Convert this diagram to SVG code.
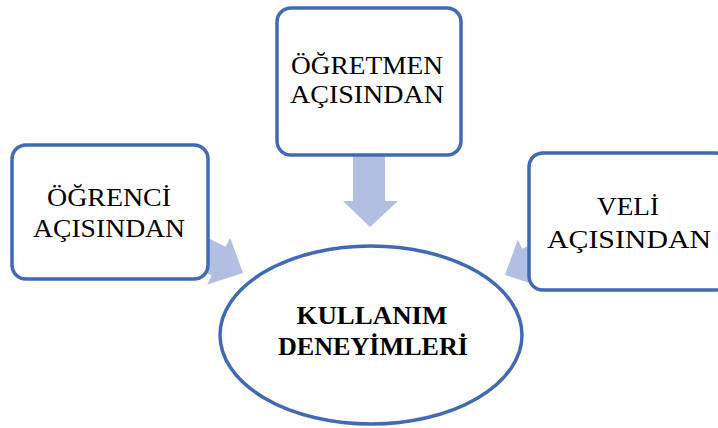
<svg xmlns="http://www.w3.org/2000/svg" width="718" height="428" viewBox="0 0 718 428">
<style>
.box{fill:#fff;stroke:#4169B4;stroke-width:3.5}
.arr{fill:#B2BFE2;stroke:none}
.t{font-family:"Liberation Serif","Times New Roman",serif;font-size:25px;fill:#000;text-anchor:middle}
.b{font-weight:bold;font-size:26px}
</style>
<rect width="718" height="428" fill="#fff"/>
<g id="connectors">
<polygon class="arr" points="353,150 385,150 385,201 398,201 370,227 343,201 353,201"/>
<polygon class="arr" transform="translate(243,273) rotate(26.1)" points="-60,-16 -27,-16 -27,-26 0,0 -27,26 -27,16 -60,16"/>
<polygon class="arr" transform="translate(505,275) rotate(153.9)" points="-60,-16 -27,-16 -27,-26 0,0 -27,26 -27,16 -60,16"/>
</g>
<g id="ogrenci">
<rect class="box" x="12" y="145" width="196" height="134" rx="14"/>
<text class="t" x="109" y="206" textLength="124" lengthAdjust="spacingAndGlyphs">ÖĞRENCİ</text>
<text class="t" x="109" y="237" textLength="152" lengthAdjust="spacingAndGlyphs">AÇISINDAN</text>
</g>
<g id="ogretmen">
<rect class="box" x="277" y="8" width="184" height="147" rx="14"/>
<text class="t" x="367" y="74" textLength="152" lengthAdjust="spacingAndGlyphs">ÖĞRETMEN</text>
<text class="t" x="367" y="103" textLength="154" lengthAdjust="spacingAndGlyphs">AÇISINDAN</text>
</g>
<g id="veli">
<rect class="box" x="529" y="153" width="200" height="137" rx="14"/>
<text class="t" x="628" y="215" textLength="62" lengthAdjust="spacingAndGlyphs">VELİ</text>
<text class="t" x="629" y="248" textLength="164" lengthAdjust="spacingAndGlyphs">AÇISINDAN</text>
</g>
<g id="kullanim">
<ellipse class="box" cx="371" cy="335" rx="151" ry="89"/>
<text class="t b" x="372" y="324" textLength="151" lengthAdjust="spacingAndGlyphs">KULLANIM</text>
<text class="t b" x="373" y="355" textLength="190" lengthAdjust="spacingAndGlyphs">DENEYİMLERİ</text>
</g>
</svg>
